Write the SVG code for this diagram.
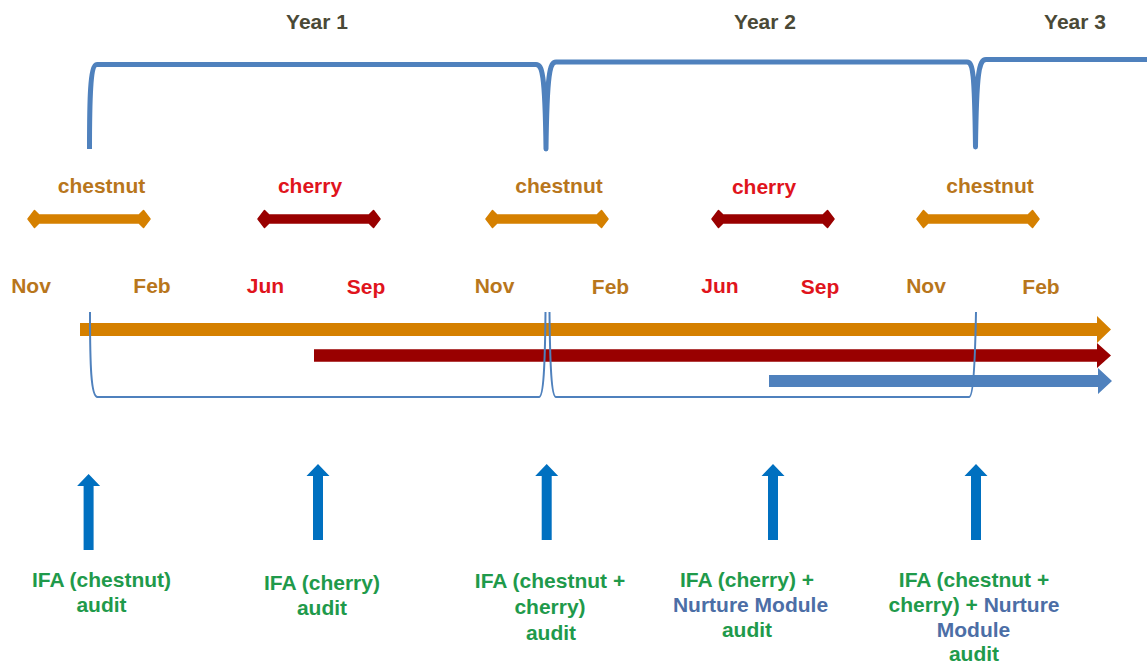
<svg xmlns="http://www.w3.org/2000/svg" xmlns:xlink="http://www.w3.org/1999/xlink" width="1147" height="664" viewBox="0 0 1147 664">
  <style>
    text { font-family: "Liberation Sans", Arial, sans-serif; font-weight: bold; font-size: 21px; text-anchor: middle; }
    .year { fill: #4a4936; }
    .chestnut { fill: #b8761c; }
    .cherry { fill: #e0141c; }
    .green { fill: #1f9a4b; }
    .nm { fill: #4c6ea6; }
    .fchest { fill: #d58000; stroke: #d58000; stroke-width: 1.5; stroke-linejoin: round; }
    .fcherry { fill: #990000; stroke: #990000; stroke-width: 1.5; stroke-linejoin: round; }
    .up { fill: #0070c0; }
    .brace { fill: none; stroke: #4f81bd; stroke-linecap: butt; stroke-linejoin: round; }
  </style>
  <defs>
    <path id="dbl" d="M0,0 L6.5,-8.5 L11,-4 L111,-4 L115.5,-8.5 L122,0 L115.5,8.5 L111,4 L11,4 L6.5,8.5 Z"/>
    <path id="uparrow" d="M0,0 L11.5,12 L5,12 L5,76 L-5,76 L-5,12 L-11.5,12 Z"/>
  </defs>

  <g id="years">
    <text class="year" x="317" y="29">Year 1</text>
    <text class="year" x="765" y="29">Year 2</text>
    <text class="year" x="1075" y="29">Year 3</text>
  </g>

  <g id="season-labels">
    <text class="chestnut" x="101.5" y="193">chestnut</text>
    <text class="cherry" x="310" y="193">cherry</text>
    <text class="chestnut" x="559" y="193">chestnut</text>
    <text class="cherry" x="764" y="194">cherry</text>
    <text class="chestnut" x="990" y="193">chestnut</text>
  </g>

  <g id="months">
    <text class="chestnut" x="31" y="293">Nov</text>
    <text class="chestnut" x="152" y="293">Feb</text>
    <text class="cherry" x="265.5" y="293">Jun</text>
    <text class="cherry" x="366" y="294">Sep</text>
    <text class="chestnut" x="494.5" y="293">Nov</text>
    <text class="chestnut" x="610.5" y="294">Feb</text>
    <text class="cherry" x="720" y="293">Jun</text>
    <text class="cherry" x="820" y="294">Sep</text>
    <text class="chestnut" x="926" y="293">Nov</text>
    <text class="chestnut" x="1041" y="294">Feb</text>
  </g>

  <g id="connectors">
    <!-- season double arrows -->
    <use xlink:href="#dbl" href="#dbl" x="28" y="219" class="fchest"/>
    <use xlink:href="#dbl" href="#dbl" x="258" y="219" class="fcherry"/>
    <use xlink:href="#dbl" href="#dbl" x="486" y="219" class="fchest"/>
    <use xlink:href="#dbl" href="#dbl" x="712" y="219" class="fcherry"/>
    <use xlink:href="#dbl" href="#dbl" x="917" y="219" class="fchest"/>

    <!-- long timeline arrows -->
    <polygon fill="#d58000" points="80,323 1097,323 1097,316 1111,329.5 1097,343 1097,336 80,336"/>
    <polygon fill="#990000" points="314,349.3 1097,349.3 1097,343 1111,355.5 1097,368 1097,361.7 314,361.7"/>
    <polygon fill="#4f81bd" points="769,375 1098,375 1098,368 1112,381 1098,394 1098,387 769,387"/>

    <!-- top year brace -->
    <path class="brace" stroke-width="5" d="M89.5,149 C89.5,100 90,64.5 97,64.5 H536 C542,64.5 545,72 546,149 C547,72 550,62 556,62 H967 C973,62 974.5,72 975.5,147 C976.5,72 979,59.5 986,59.5 H1147"/>

    <!-- bottom thin brace -->
    <path class="brace" stroke-width="2" d="M90,312 C90,365 91,397 97.5,397 H539 C543.5,397 545,365 545.5,312 M549.5,312 C550,365 551.5,397 556,397 H969 C973,397 975,365 976,312"/>

    <!-- audit up arrows -->
    <use xlink:href="#uparrow" href="#uparrow" x="88.6" y="474" class="up"/>
    <use xlink:href="#uparrow" href="#uparrow" x="318" y="464" class="up"/>
    <use xlink:href="#uparrow" href="#uparrow" x="546.7" y="464" class="up"/>
    <use xlink:href="#uparrow" href="#uparrow" x="773" y="464" class="up"/>
    <use xlink:href="#uparrow" href="#uparrow" x="976" y="464" class="up"/>
  </g>

  <g id="audit1">
    <text class="green" x="101.5" y="587">IFA (chestnut)</text>
    <text class="green" x="101.5" y="612">audit</text>
  </g>
  <g id="audit2">
    <text class="green" x="322" y="590">IFA (cherry)</text>
    <text class="green" x="322" y="615">audit</text>
  </g>
  <g id="audit3">
    <text class="green" x="550" y="588">IFA (chestnut +</text>
    <text class="green" x="550" y="614">cherry)</text>
    <text class="green" x="551" y="640">audit</text>
  </g>
  <g id="audit4">
    <text class="green" x="747" y="587">IFA (cherry) +</text>
    <text class="nm" x="750.5" y="612">Nurture Module</text>
    <text class="green" x="747" y="637">audit</text>
  </g>
  <g id="audit5">
    <text class="green" x="974" y="587">IFA (chestnut +</text>
    <text x="974" y="612"><tspan class="green">cherry) + </tspan><tspan class="nm">Nurture</tspan></text>
    <text class="nm" x="973.5" y="637">Module</text>
    <text class="green" x="974" y="661">audit</text>
  </g>
</svg>
